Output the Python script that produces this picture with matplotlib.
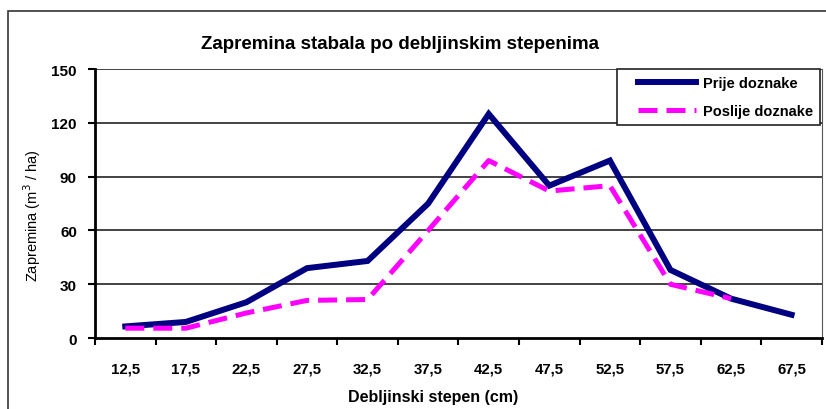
import matplotlib
matplotlib.use("Agg")
import matplotlib.pyplot as plt
import numpy as np
from matplotlib.patches import Rectangle

# data
stepeni = ["12,5", "17,5", "22,5", "27,5", "32,5", "37,5", "42,5", "47,5", "52,5", "57,5", "62,5", "67,5"]
prije = [6.5, 9, 20, 39, 43, 75, 125, 85, 99, 38, 22, 13]
poslije = [5.5, 5.5, 14, 21, 21.5, 60, 99, 82, 85, 30, 22]
y_ticks = [0, 30, 60, 90, 120, 150]

plt.rcParams['font.family'] = ['Liberation Sans', 'DejaVu Sans']

fig = plt.figure(figsize=(8.26, 4.10), dpi=100)
ax = fig.add_axes([0.115, 0.173, 0.880, 0.656])

# outer chart border
fig.patches.append(Rectangle((8/826, -0.1), 1.2, 1 - 12/410 + 0.1, transform=fig.transFigure,
                             fill=False, edgecolor="#333333", linewidth=1.2, zorder=0))

x = range(len(stepeni))
ax.plot(list(x), prije, color="#000080", linewidth=4.3, label="Prije doznake", solid_joinstyle="miter")
ax.plot(list(x)[:len(poslije)], poslije, color="#FF00FF", linewidth=3.6, dashes=(3.8, 1.8),
        label="Poslije doznake")

ax.set_xlim(-0.5, len(stepeni) - 0.5)
ax.set_ylim(0, 150)
ax.set_yticks(y_ticks)
ax.set_yticklabels([str(v) for v in y_ticks], fontweight="bold", fontsize=11)
ax.set_xticks([i - 0.5 for i in range(len(stepeni) + 1)])
ax.set_xticklabels([])
ax.set_xticks(list(x), minor=True)
ax.set_xticklabels(stepeni, minor=True, fontweight="bold", fontsize=10.8)
ax.tick_params(axis="x", which="minor", length=0, pad=17)
ax.tick_params(axis="x", which="major", direction="out", length=5, width=1.5)
ax.tick_params(axis="y", direction="out", length=5, width=1.5, pad=8)

for v in y_ticks[1:]:
    ax.axhline(v, color="#222222", linewidth=1.2, zorder=0)

for side in ["left", "bottom"]:
    ax.spines[side].set_linewidth(2)
ax.spines["right"].set_color("#555555")
ax.spines["top"].set_visible(False)

ax.set_ylabel("Zapremina (m$^3$ / ha)", fontsize=10.5)
ax.set_xlabel("Debljinski stepen (cm)", fontweight="bold", fontsize=11.5)
ax.xaxis.set_label_coords(0.465, -0.19)
ax.yaxis.set_label_coords(-0.072, 0.457)

fig.text(0.484, 0.892, "Zapremina stabala po debljinskim stepenima", ha="center", va="center",
         fontweight="bold", fontsize=13.5)

leg = ax.legend(loc="upper right", bbox_to_anchor=(0.9975, 1.0), borderaxespad=0, fancybox=False,
                framealpha=1, edgecolor="#222222", handlelength=5.1, handletextpad=0.4,
                borderpad=0.45, labelspacing=1.0, prop={"weight": "bold", "size": 10.5})
leg.get_frame().set_linewidth(1.2)
# leave some room left of the legend lines, like the original
fs = 10.5
for h in leg.legend_handles:
    yd = h.get_ydata()
    h.set_data(np.linspace(1.0 * fs, 5.0 * fs, len(yd)), yd)

fig.savefig("out.png", dpi=100)
